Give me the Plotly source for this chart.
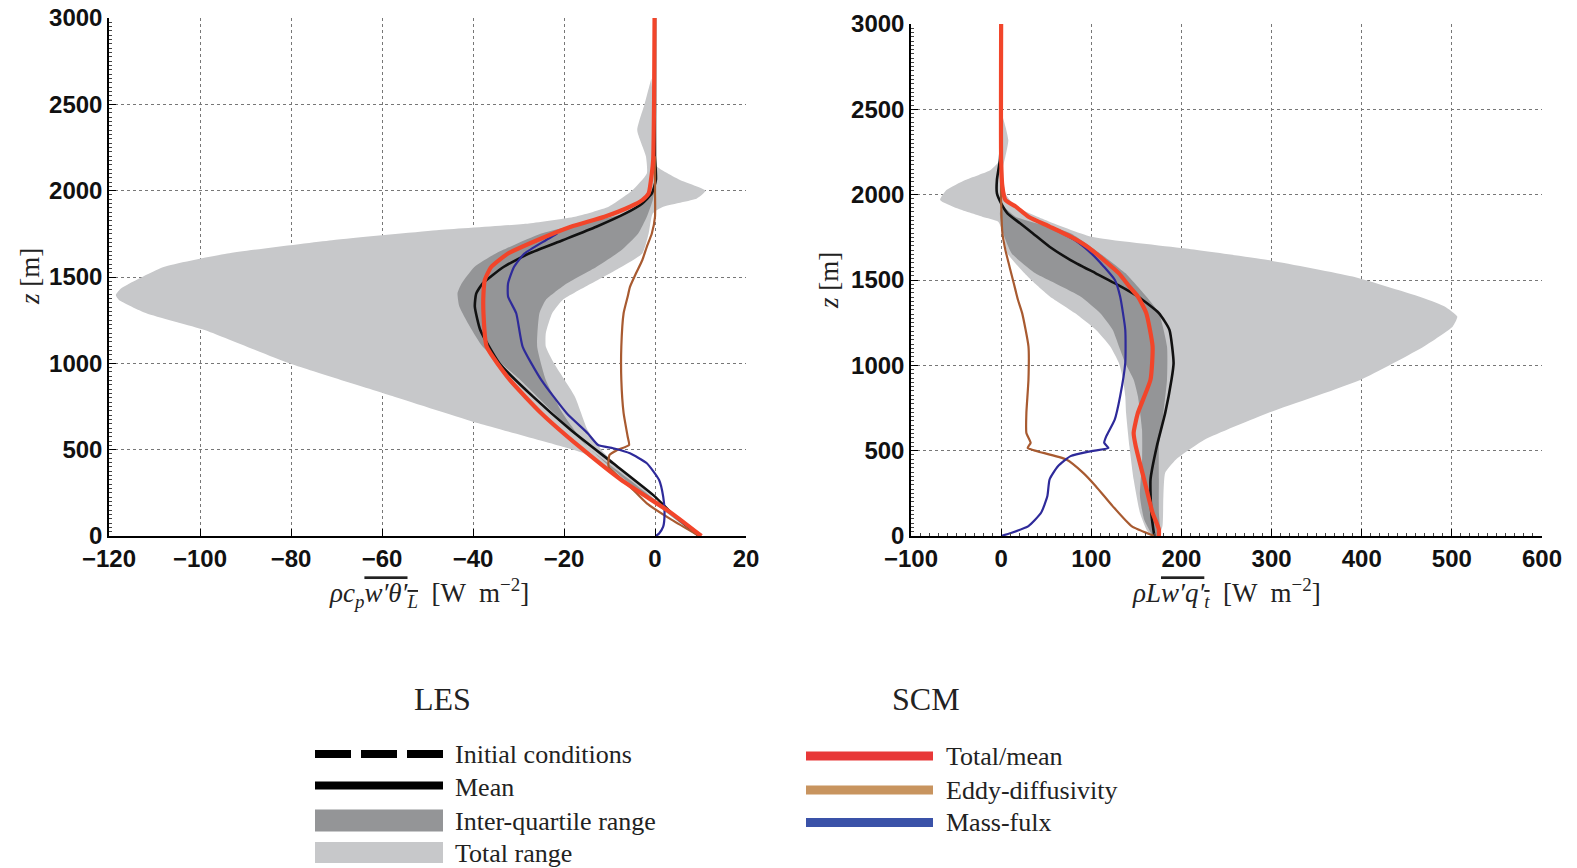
import plotly.graph_objects as go

# ---------------- Left panel: rho cp w'theta'_L [W m-2] ----------------
L_tot_lo_z = [0, 131, 324, 479, 517, 653, 807, 1000, 1193, 1290, 1367, 1395, 1430, 1462, 1558, 1636, 1713, 1771, 1810, 1849, 1907, 2000, 2100, 2200, 2350, 2500, 2650]
L_tot_lo_x = [10.2, 3.7, -7.4, -15.7, -20.3, -38.8, -57.3, -80.4, -99, -111.8, -117.8, -118.5, -117.5, -115.5, -108, -94, -71, -48, -27.7, -17.6, -10.2, -5.1, -1.8, -2, -3.9, -2.3, -0.8]
L_tot_hi_z = [0, 170, 324, 479, 614, 807, 1000, 1097, 1174, 1290, 1367, 1462, 1558, 1636, 1752, 1868, 1907, 1955, 2000, 2062, 2150, 2300, 2500, 2650]
L_tot_hi_x = [10.2, 1.8, -4.6, -11.1, -14.8, -17.6, -22.2, -24, -24, -22.6, -20.3, -14.0, -7.4, -2.8, -1.4, -0.5, 1.8, 9.2, 11.1, 5.5, 0, -0.3, -0.4, -0.8]

L_iqr_lo_z = [0, 131, 324, 517, 711, 904, 1097, 1213, 1329, 1406, 1462, 1558, 1636, 1752, 1829, 1868, 1945, 2000]
L_iqr_lo_x = [9.2, 2.8, -6.5, -14.8, -22.2, -29.6, -37.9, -40.7, -43, -43.4, -42.5, -39.7, -35, -25, -12.9, -6.5, -1.8, -0.3]
L_iqr_hi_z = [0, 131, 324, 517, 711, 904, 1097, 1290, 1367, 1462, 1558, 1655, 1752, 1849, 1945, 2025]
L_iqr_hi_x = [9.7, 3.7, -5.5, -14.8, -20.3, -24, -25.9, -25.4, -24, -19.4, -12.9, -7.4, -3.7, -1.8, -0.5, 0]

L_mean_z = [0, 131, 228, 421, 614, 807, 1000, 1193, 1329, 1404, 1462, 1558, 1636, 1713, 1791, 1868, 1926, 1984, 2062, 2200, 2500, 3000]
L_mean_x = [9.7, 3.7, 0, -9.2, -18.5, -26.8, -34.2, -38.4, -39.6, -39.3, -37.9, -33.3, -27.7, -20.3, -12.9, -6.5, -2.8, -0.7, 0.2, 0, 0, 0]

L_tot_z = [0, 131, 324, 517, 711, 904, 1097, 1290, 1404, 1483, 1558, 1636, 1713, 1791, 1849, 1907, 1945, 1984, 2100, 2178, 2526, 3000]
L_tot_x = [10.2, 3.7, -7.4, -16.6, -25, -31.9, -37, -37.7, -37.7, -37.4, -36, -32.3, -25.9, -18.5, -11.1, -5.5, -2.8, -1.4, -0.7, -0.4, -0.2, -0.1]

L_mf_z = [0, 15, 54, 131, 228, 324, 421, 479, 508, 527, 595, 711, 904, 1097, 1290, 1387, 1462, 1558, 1636, 1713, 1752]
L_mf_x = [0.2, 0.9, 1.8, 2.1, 1.8, 0.9, -1.8, -5.5, -9.2, -12.5, -14.8, -19.4, -25, -29.1, -30.5, -32.3, -32.3, -31, -28.7, -24, -21.5]

L_ed_z = [0, 93, 189, 286, 363, 402, 469, 498, 527, 575, 711, 904, 1097, 1290, 1387, 1443, 1520, 1597, 1675, 1752, 1849, 2000, 2200]
L_ed_x = [9.7, 3.7, -1.8, -5.5, -8.8, -10.2, -10, -8.3, -5.7, -6, -6.9, -7.4, -7.4, -6.9, -6, -5.5, -4.2, -2.8, -1.8, -0.7, 0, 0, 0]

# ---------------- Right panel: rho L w'q_t' [W m-2] ----------------
R_tot_lo_z = [0, 39, 136, 331, 526, 721, 819, 916, 1014, 1111, 1208, 1306, 1403, 1501, 1539, 1656, 1774, 1842, 1871, 1920, 1969, 2027, 2086, 2145, 2203, 2320, 2457]
R_tot_lo_x = [165.7, 161, 154, 147, 142.3, 138.6, 137.7, 135.3, 130.7, 121, 105, 81.7, 54, 33, 26, 7, 2.3, -3.3, -21, -49, -67.7, -60.7, -39.7, -11.7, -1.4, -1, 0]
R_tot_hi_z = [0, 58, 234, 370, 448, 565, 721, 916, 1111, 1228, 1286, 1345, 1393, 1520, 1617, 1686, 1754, 1852, 1930, 2008, 2164, 2223, 2320, 2457]
R_tot_hi_x = [175, 179, 180, 182, 194, 226, 296, 399, 469, 501, 506, 492, 469, 390, 296, 203, 100, 49, 16.3, 4.7, 2.3, 4.7, 8, 1.4]

R_iqr_lo_z = [0, 97, 234, 429, 624, 819, 916, 1014, 1111, 1208, 1306, 1403, 1501, 1539, 1656, 1774, 1891]
R_iqr_lo_x = [168, 158.6, 154, 156.3, 156.3, 151.7, 147, 137.7, 130.7, 123.7, 109.7, 88, 52, 38, 11.7, 2.3, -1.4]
R_iqr_hi_z = [0, 136, 331, 526, 721, 916, 1111, 1306, 1403, 1501, 1539, 1656, 1774, 1813, 1871, 1930]
R_iqr_hi_x = [177, 175, 175, 175, 180, 184, 184, 175, 161, 144.7, 138, 109.7, 77, 53, 16, 1.4]

R_mean_z = [0, 19, 136, 331, 526, 721, 916, 1014, 1208, 1306, 1403, 1461, 1539, 1617, 1695, 1774, 1832, 1891, 1949, 2008, 2086, 2203, 2400, 3000]
R_mean_x = [170, 169.4, 166.6, 165.7, 172.7, 182, 189, 191.3, 186.7, 175, 151.7, 133, 105, 77, 53.7, 35, 21, 7, 0, -4.7, -4.7, -1.4, 0, 0]

R_tot_z = [0, 39, 136, 331, 526, 604, 721, 916, 1111, 1306, 1403, 1461, 1539, 1617, 1695, 1754, 1813, 1871, 1930, 1969, 2047, 2200, 3000]
R_tot_x = [175, 175, 168, 158.6, 149.3, 147, 151.7, 165.7, 168, 161, 151.7, 142.3, 130.7, 114, 95.7, 77, 53.7, 30.3, 16.3, 4.7, 1.4, 0, 0]

R_mf_z = [0, 19, 58, 136, 234, 331, 409, 468, 497, 516, 546, 585, 682, 819, 1014, 1208, 1403, 1501, 1578, 1656, 1734, 1790]
R_mf_x = [0, 11.7, 30.3, 44.3, 51.3, 53.7, 63, 77, 100, 119, 114.3, 116.7, 126, 132, 137.7, 137.7, 132, 126, 114, 100, 81.7, 62]

R_ed_z = [0, 58, 175, 292, 370, 448, 497, 516, 546, 604, 721, 916, 1111, 1306, 1383, 1481, 1578, 1676, 1774, 1969, 2200]
R_ed_x = [170, 144.7, 123.7, 105, 91, 72.3, 39.7, 29.4, 32.7, 28, 28, 30.3, 30.3, 23.3, 18.7, 14, 9.3, 4.7, 1.4, 0, 0]

# ---------------- Axis ticks / labels ----------------
L_xticks = [-120, -100, -80, -60, -40, -20, 0, 20]
R_xticks = [-100, 0, 100, 200, 300, 400, 500, 600]
Z_ticks = [0, 500, 1000, 1500, 2000, 2500, 3000]

LES_labels = ["Initial conditions", "Mean", "Inter-quartile range", "Total range"]
SCM_labels = ["Total/mean", "Eddy-diffusivity", "Mass-fulx"]

# ---------------- Styles ----------------
C_LIGHT = "#c7c8ca"
C_DARK = "#949597"
C_MEAN = "#111111"
C_RED = "#f2452a"
C_BLUE = "#2e2a9a"
C_BROWN = "#a85a30"

W, H = 1577, 868
def X(px):
    return px / W
def Y(py):
    return 1 - py / H

fig = go.Figure()

def band(lo_x, lo_z, hi_x, hi_z, color, xa, ya):
    fig.add_trace(go.Scatter(
        x=list(lo_x) + list(hi_x)[::-1], y=list(lo_z) + list(hi_z)[::-1],
        mode="lines", fill="toself", fillcolor=color,
        line=dict(width=0, color=color, shape="spline", smoothing=0.5),
        xaxis=xa, yaxis=ya, hoverinfo="skip", showlegend=False))

def curve(xs, zs, color, width, xa, ya):
    fig.add_trace(go.Scatter(
        x=xs, y=zs, mode="lines",
        line=dict(color=color, width=width, shape="spline", smoothing=0.5),
        xaxis=xa, yaxis=ya, hoverinfo="skip", showlegend=False))

for (xa, ya, tlo, tloz, thi, thiz, ilo, iloz, ihi, ihiz, mx, mz, ex, ez, fx, fz, tx, tz) in [
    ("x", "y", L_tot_lo_x, L_tot_lo_z, L_tot_hi_x, L_tot_hi_z, L_iqr_lo_x, L_iqr_lo_z, L_iqr_hi_x, L_iqr_hi_z,
     L_mean_x, L_mean_z, L_ed_x, L_ed_z, L_mf_x, L_mf_z, L_tot_x, L_tot_z),
    ("x2", "y2", R_tot_lo_x, R_tot_lo_z, R_tot_hi_x, R_tot_hi_z, R_iqr_lo_x, R_iqr_lo_z, R_iqr_hi_x, R_iqr_hi_z,
     R_mean_x, R_mean_z, R_ed_x, R_ed_z, R_mf_x, R_mf_z, R_tot_x, R_tot_z),
]:
    band(tlo, tloz, thi, thiz, C_LIGHT, xa, ya)
    band(ilo, iloz, ihi, ihiz, C_DARK, xa, ya)
    curve(mx, mz, C_MEAN, 2.6, xa, ya)
    curve(ex, ez, C_BROWN, 2.2, xa, ya)
    curve(fx, fz, C_BLUE, 2.2, xa, ya)
    curve(tx, tz, C_RED, 4.2, xa, ya)

tickfont = dict(family="Liberation Sans, Arial, sans-serif", size=24, color="#111111", weight="bold")
common_axis = dict(showline=True, linecolor="black", linewidth=1.5, ticks="inside", ticklen=7,
                   tickcolor="black", tickwidth=1, showgrid=True, gridcolor="#777777",
                   griddash="dot", gridwidth=1, zeroline=False, mirror=False, automargin=False,
                   tickfont=tickfont)

fig.update_layout(
    width=W, height=H, margin=dict(l=0, r=0, t=0, b=0, autoexpand=False),
    paper_bgcolor="white", plot_bgcolor="white", showlegend=False,
    xaxis=dict(domain=[X(109), X(746)], range=[-120, 20], tickvals=L_xticks, anchor="y", **common_axis),
    yaxis=dict(domain=[Y(536), Y(18)], range=[0, 3000], tickvals=Z_ticks, anchor="x",
               minor=dict(ticks="inside", ticklen=3, dtick=25, tickcolor="#444444", showgrid=False),
               **common_axis),
    xaxis2=dict(domain=[X(911), X(1542)], range=[-100, 600], tickvals=R_xticks, anchor="y2",
                minor=dict(ticks="inside", ticklen=3, dtick=10, tickcolor="#444444", showgrid=False),
                **common_axis),
    yaxis2=dict(domain=[Y(536), Y(24)], range=[0, 3000], tickvals=Z_ticks, anchor="x2",
                minor=dict(ticks="inside", ticklen=3, dtick=25, tickcolor="#444444", showgrid=False),
                **common_axis),
)

serif = "Liberation Serif, Times New Roman, serif"
title_font = dict(family=serif, size=27, color="#222222")

annotations = [
    dict(text="<i>ρc</i><sub><i>p</i></sub><span style='text-decoration:overline'><i>w′θ′</i><sub><i>L</i></sub></span>  [W  m<sup>−2</sup>]",
         x=X(429), y=Y(593), xanchor="center", yanchor="middle"),
    dict(text="<i>ρL</i><span style='text-decoration:overline'><i>w′q′</i><sub><i>t</i></sub></span>  [W  m<sup>−2</sup>]",
         x=X(1226), y=Y(593), xanchor="center", yanchor="middle"),
    dict(text="<i>z</i> [m]", x=X(30), y=Y(277), xanchor="center", yanchor="middle", textangle=-90),
    dict(text="<i>z</i> [m]", x=X(829), y=Y(281), xanchor="center", yanchor="middle", textangle=-90),
]
for a in annotations:
    a.update(xref="paper", yref="paper", showarrow=False, font=title_font)
    fig.add_annotation(**a)

# ---------------- Custom legend ----------------
legend_font = dict(family=serif, size=26, color="#222222")
fig.add_annotation(text="LES", x=X(442), y=Y(699), xref="paper", yref="paper", showarrow=False,
                   xanchor="center", yanchor="middle", font=dict(family=serif, size=32, color="#222222"))
fig.add_annotation(text="SCM", x=X(926), y=Y(699), xref="paper", yref="paper", showarrow=False,
                   xanchor="center", yanchor="middle", font=dict(family=serif, size=32, color="#222222"))

les_rows = [754, 787, 821, 853]
les_x0, les_x1, les_tx = 315, 443, 453
# dashed initial conditions
fig.add_shape(type="line", xref="paper", yref="paper", x0=X(les_x0), x1=X(les_x1), y0=Y(les_rows[0]), y1=Y(les_rows[0]),
              line=dict(color="black", width=8, dash="36px,10px"))
fig.add_shape(type="line", xref="paper", yref="paper", x0=X(les_x0), x1=X(les_x1), y0=Y(785.5), y1=Y(785.5),
              line=dict(color="black", width=8))
fig.add_shape(type="rect", xref="paper", yref="paper", x0=X(les_x0), x1=X(les_x1), y0=Y(831.5), y1=Y(809.5),
              line=dict(width=0), fillcolor=C_DARK)
fig.add_shape(type="rect", xref="paper", yref="paper", x0=X(les_x0), x1=X(les_x1), y0=Y(863), y1=Y(842),
              line=dict(width=0), fillcolor=C_LIGHT)
for lab, yy in zip(LES_labels, les_rows):
    fig.add_annotation(text=lab, x=X(les_tx), y=Y(yy), xref="paper", yref="paper", showarrow=False,
                       xanchor="left", yanchor="middle", font=legend_font)

scm_rows = [756, 790, 822.5]
scm_colors = ["#e83838", "#c8945f", "#3a52a8"]
for lab, yy, col in zip(SCM_labels, scm_rows, scm_colors):
    fig.add_shape(type="line", xref="paper", yref="paper", x0=X(806), x1=X(933), y0=Y(yy), y1=Y(yy),
                  line=dict(color=col, width=9))
    fig.add_annotation(text=lab, x=X(944), y=Y(yy), xref="paper", yref="paper", showarrow=False,
                       xanchor="left", yanchor="middle", font=legend_font)

fig.write_html("out.html")
